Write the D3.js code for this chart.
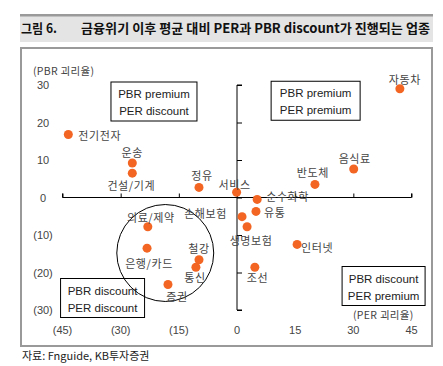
<!DOCTYPE html>
<html><head><meta charset="utf-8">
<script src="https://cdn.jsdelivr.net/npm/d3@7"></script>
<style>
body{margin:0;background:#fff;}
svg{display:block;}
text{font-family:"Noto Sans CJK KR","Noto Sans",sans-serif;}
text.lat{font-family:"Liberation Sans",Arial,sans-serif;}
</style></head>
<body>
<svg id="c" width="443" height="366"></svg>
<script>
// ---- data ----
const sectors = ["자동차","전기전자","운송","건설/기계","정유","서비스","반도체","음식료","순수화학","유통","손해보험","생명보험","인터넷","조선","의료/제약","은행/카드","철강","통신","증권"];
const perGap  = [42, -43.5, -27, -27, -9.8, -0.1, 20.1, 30.1, 5.2, 4.9, 1.3, 2.6, 15.5, 4.6, -23, -23.2, -9.8, -10.6, -17.8];
const pbrGap  = [29, 16.8, 9.2, 6.5, 2.7, 1.4, 3.5, 7.6, -0.5, -3.7, -5.1, -7.8, -12.5, -18.6, -7.8, -13.5, -16.6, -18.6, -23.2];
const xTicks = [-45,-30,-15,0,15,30,45];
const xTickLabels = ["(45)","(30)","(15)","0","15","30","45"];
const yTicks = [30,20,10,0,-10,-20,-30];
const yTickLabels = ["30","20","10","0","(10)","(20)","(30)"];
const quadrantLabels = [["PBR premium","PER discount"],["PBR premium","PER premium"],["PBR discount","PER discount"],["PBR discount","PER premium"]];
const titleNo = "그림 6.";
const titleText = "금융위기 이후 평균 대비 PER과 PBR discount가 진행되는 업종";
const sourceText = "자료:  Fnguide, KB투자증권";
const xTitle = "(PER 괴리율)", yTitle = "(PBR 괴리율)";

// ---- layout ----
const labelPos = { // [anchor, dx, dy]
 "자동차":["middle",5,-9],"전기전자":["start",10,2],"운송":["middle",0,-10],"건설/기계":["middle",-1,13],
 "정유":["middle",3,-11],"서비스":["middle",-2,-7],"반도체":["middle",-2,-11],"음식료":["middle",1,-10],
 "순수화학":["start",9,-2],"유통":["start",8,2],"손해보험":["end",-15,-2],"생명보험":["middle",4,14],
 "인터넷":["start",4,4],"조선":["start",-8,11],"의료/제약":["middle",3,-9],"은행/카드":["middle",2,16],
 "철강":["middle",0,-11],"통신":["middle",-1,11],"증권":["middle",9,13]
};
const svg = d3.select("#c");
const x = d3.scaleLinear().domain([-45,45]).range([62.5,411.5]);
const y = d3.scaleLinear().domain([-30,30]).range([310,85]);

// title bar
svg.append("rect").attr("x",20).attr("y",14).attr("width",413).attr("height",28).attr("fill","#e4e4e4");
svg.append("rect").attr("x",20).attr("y",14).attr("width",413).attr("height",2.5).attr("fill","#9a9a9a");
svg.append("text").attr("x",21).attr("y",33).attr("font-size",13).attr("font-weight","bold").attr("fill","#111")
  .attr("textLength",36).attr("lengthAdjust","spacingAndGlyphs").text(titleNo);
svg.append("text").attr("x",81).attr("y",33).attr("font-size",13).attr("font-weight","bold").attr("fill","#111")
  .attr("textLength",349).attr("lengthAdjust","spacingAndGlyphs").text(titleText);
// frame
svg.append("rect").attr("x",21).attr("y",48).attr("width",411).attr("height",298).attr("fill","none").attr("stroke","#999").attr("stroke-width",2);

// axes
const gx = svg.append("g").attr("transform",`translate(0,${y(0)})`)
  .call(d3.axisTop(x).tickValues(xTicks).tickSize(4).tickFormat(""));
gx.select(".domain").attr("stroke","#000").attr("d",`M${x(-45)},-4V0H${x(45)}V-4`);
gx.selectAll(".tick line").attr("stroke","#000");
const gy = svg.append("g").attr("transform",`translate(${x(0)},0)`)
  .call(d3.axisRight(y).tickValues(yTicks).tickSize(5).tickFormat(""));
gy.select(".domain").attr("stroke","#000").attr("d",`M5,${y(30)}H0V${y(-30)}H5`);
gy.selectAll(".tick line").attr("stroke","#000");

// tick labels
svg.selectAll(".xl").data(xTicks).enter().append("text").attr("class","lat")
  .attr("x",d=>x(d)).attr("y",334).attr("text-anchor","middle").attr("font-size",11).attr("fill","#444")
  .text((d,i)=>xTickLabels[i]);
svg.selectAll(".yl").data(yTicks).enter().append("text").attr("class","lat")
  .attr("x",43).attr("y",d=>y(d)+4).attr("text-anchor","middle").attr("font-size",11).attr("fill","#444")
  .text((d,i)=>yTickLabels[i]);
svg.append("text").attr("x",33).attr("y",75).attr("font-size",10.5).attr("fill","#444").attr("letter-spacing",0.3).text(yTitle);
svg.append("text").attr("x",353).attr("y",319).attr("font-size",10.5).attr("fill","#444").attr("letter-spacing",0.3).text(xTitle);

// quadrant boxes
const boxes = [[-32.5,30.8],[8.8,31],[-45.5,-21.6],[27.1,-18.4]];
const boxW = [86,89,84,83];
boxes.forEach((b,i)=>{
  const bx=x(b[0]), by=y(b[1]);
  const w = boxW[i];
  svg.append("rect").attr("x",bx).attr("y",by).attr("width",w).attr("height",39).attr("fill","#fff").attr("stroke","#000").attr("stroke-width",1);
  quadrantLabels[i].forEach((t,j)=>{
    svg.append("text").attr("class","lat").attr("x",bx+w/2).attr("y",by+16+j*17).attr("text-anchor","middle")
      .attr("font-size",11.5).attr("fill","#222").text(t);
  });
});

// circle
svg.append("circle").attr("cx",x(-18.5)).attr("cy",y(-14.8)).attr("r",x(-6)-x(-18.5))
  .attr("fill","none").attr("stroke","#000").attr("stroke-width",1);

// points
const pts = sectors.map((s,i)=>({s,px:perGap[i],pb:pbrGap[i]}));
svg.selectAll(".pt").data(pts).enter().append("circle")
  .attr("cx",d=>x(d.px)).attr("cy",d=>y(d.pb)).attr("r",4.5).attr("fill","#f26522");
svg.selectAll(".lb").data(pts).enter().append("text")
  .attr("x",d=>x(d.px)+labelPos[d.s][1]).attr("y",d=>y(d.pb)+labelPos[d.s][2])
  .attr("dy","0.35em").attr("text-anchor",d=>labelPos[d.s][0])
  .attr("font-size",11).attr("letter-spacing",0.6).attr("fill","#444").text(d=>d.s);

// source
svg.append("text").attr("x",22).attr("y",360).attr("font-size",11).attr("fill","#222").text(sourceText);
</script>
</body></html>
